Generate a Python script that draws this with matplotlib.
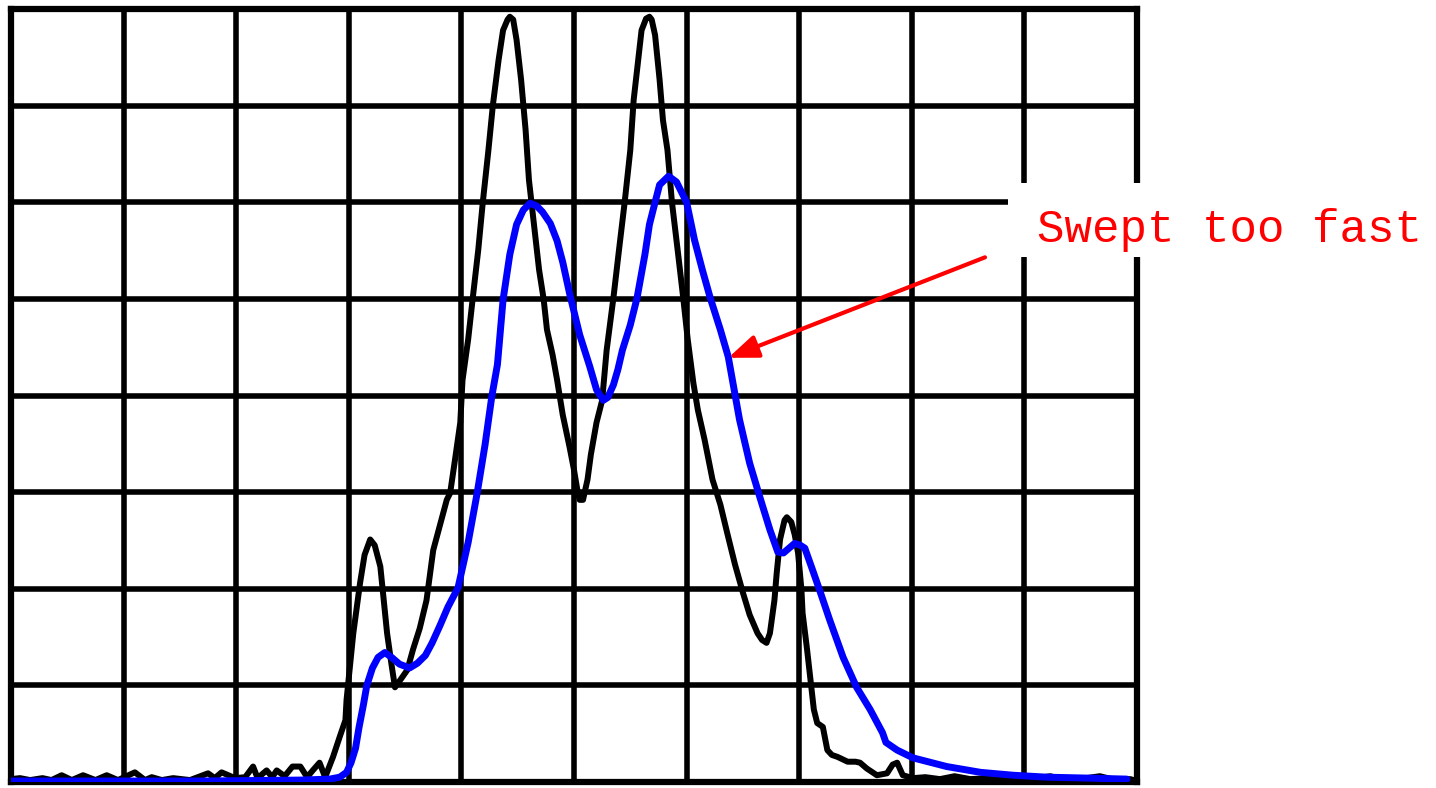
import matplotlib
matplotlib.use('Agg')
import matplotlib.pyplot as plt
from matplotlib.patches import Rectangle

# Trace mesurée (noir) : x en divisions horizontales, y en divisions verticales
black_x = [0.00, 0.08, 0.17, 0.28, 0.36, 0.45, 0.54, 0.64, 0.75, 0.85, 0.95,
           1.10, 1.19, 1.25, 1.34, 1.44, 1.59, 1.75, 1.81, 1.87, 1.99, 2.08,
           2.15, 2.19, 2.27, 2.32, 2.36, 2.43, 2.50, 2.57, 2.63, 2.68, 2.74,
           2.79, 2.86, 2.92, 2.97, 2.98, 3.04, 3.10, 3.14, 3.19, 3.23, 3.28,
           3.34, 3.38, 3.41, 3.46, 3.52, 3.57, 3.63, 3.69, 3.75, 3.81, 3.87,
           3.90, 3.94, 3.99, 4.01, 4.06, 4.10, 4.15, 4.19, 4.24, 4.28, 4.33,
           4.37, 4.41, 4.43, 4.46, 4.49, 4.53, 4.57, 4.60, 4.65, 4.69, 4.73,
           4.76, 4.81, 4.85, 4.90, 4.96, 5.00, 5.03, 5.05, 5.08, 5.12, 5.15,
           5.20, 5.25, 5.29, 5.35, 5.40, 5.45, 5.50, 5.53, 5.57, 5.60, 5.64,
           5.67, 5.69, 5.72, 5.76, 5.79, 5.83, 5.87, 5.92, 5.97, 6.01, 6.06,
           6.10, 6.16, 6.23, 6.30, 6.36, 6.43, 6.50, 6.56, 6.63, 6.67, 6.71,
           6.74, 6.78, 6.80, 6.83, 6.87, 6.89, 6.93, 6.96, 6.99, 7.02, 7.03,
           7.07, 7.10, 7.13, 7.16, 7.21, 7.25, 7.29, 7.34, 7.43, 7.50, 7.54,
           7.60, 7.69, 7.78, 7.83, 7.87, 7.92, 8.01, 8.12, 8.25, 8.38, 8.52,
           8.69, 8.87, 9.05, 9.23, 9.36, 9.49, 9.67, 9.81, 9.94, 10.00]
black_y = [0.03, 0.04, 0.02, 0.04, 0.02, 0.07, 0.02, 0.07, 0.02, 0.07, 0.02,
           0.10, 0.02, 0.05, 0.02, 0.04, 0.02, 0.09, 0.04, 0.10, 0.04, 0.05,
           0.16, 0.04, 0.12, 0.05, 0.12, 0.06, 0.16, 0.16, 0.05, 0.12, 0.20,
           0.05, 0.26, 0.47, 0.64, 0.85, 1.54, 2.06, 2.35, 2.51, 2.45, 2.23,
           1.54, 1.21, 0.98, 1.06, 1.16, 1.37, 1.59, 1.88, 2.40, 2.66, 2.92,
           2.99, 3.31, 3.72, 4.16, 4.58, 5.00, 5.51, 6.00, 6.54, 7.01, 7.47,
           7.78, 7.89, 7.92, 7.89, 7.68, 7.27, 6.75, 6.23, 5.71, 5.30, 5.00,
           4.68, 4.42, 4.16, 3.80, 3.47, 3.23, 3.02, 2.92, 2.92, 3.13, 3.39,
           3.72, 3.95, 4.47, 5.01, 5.51, 6.00, 6.54, 7.06, 7.47, 7.78, 7.90,
           7.92, 7.89, 7.73, 7.27, 6.85, 6.54, 6.00, 5.51, 5.01, 4.58, 4.13,
           3.85, 3.54, 3.13, 2.87, 2.58, 2.25, 1.96, 1.73, 1.54, 1.47, 1.44,
           1.54, 1.88, 2.16, 2.51, 2.71, 2.74, 2.69, 2.56, 2.37, 1.99, 1.75,
           1.37, 1.06, 0.75, 0.61, 0.57, 0.33, 0.28, 0.26, 0.21, 0.21, 0.20,
           0.14, 0.07, 0.09, 0.18, 0.20, 0.07, 0.04, 0.05, 0.03, 0.06, 0.03,
           0.04, 0.02, 0.03, 0.06, 0.02, 0.03, 0.06, 0.02, 0.03, 0.01]

# Trace balayée trop vite (bleu)
blue_x = [0.00, 0.79, 1.68, 2.57, 2.83, 2.92, 2.98, 3.02, 3.06, 3.09, 3.13,
          3.16, 3.21, 3.26, 3.32, 3.38, 3.45, 3.54, 3.61, 3.68, 3.74, 3.81,
          3.88, 3.97, 4.06, 4.14, 4.21, 4.27, 4.32, 4.37, 4.43, 4.49, 4.55,
          4.61, 4.67, 4.72, 4.79, 4.85, 4.90, 4.96, 5.05, 5.14, 5.20, 5.26,
          5.30, 5.35, 5.39, 5.43, 5.50, 5.56, 5.63, 5.67, 5.72, 5.76, 5.84,
          5.91, 6.00, 6.07, 6.14, 6.21, 6.30, 6.37, 6.43, 6.47, 6.56, 6.65,
          6.74, 6.81, 6.86, 6.91, 6.96, 7.01, 7.05, 7.12, 7.18, 7.27, 7.39,
          7.51, 7.63, 7.74, 7.77, 7.87, 8.01, 8.31, 8.61, 8.90, 9.20, 9.58,
          9.91]
blue_y = [0.01, 0.01, 0.01, 0.02, 0.03, 0.05, 0.10, 0.20, 0.35, 0.56, 0.80,
          1.00, 1.18, 1.29, 1.34, 1.29, 1.22, 1.18, 1.23, 1.31, 1.44, 1.62,
          1.81, 2.01, 2.48, 2.99, 3.49, 3.99, 4.32, 4.99, 5.46, 5.77, 5.92,
          5.99, 5.96, 5.90, 5.78, 5.60, 5.38, 5.06, 4.63, 4.30, 4.06, 3.95,
          3.98, 4.11, 4.27, 4.47, 4.73, 5.01, 5.46, 5.77, 6.00, 6.18, 6.27,
          6.21, 6.00, 5.61, 5.30, 5.01, 4.68, 4.40, 4.01, 3.75, 3.30, 2.95,
          2.61, 2.38, 2.37, 2.42, 2.47, 2.45, 2.42, 2.19, 1.99, 1.68, 1.29,
          0.98, 0.75, 0.51, 0.41, 0.33, 0.25, 0.16, 0.10, 0.07, 0.05, 0.04,
          0.03]

# Annotation
label = 'Swept too fast'
arrow_tip = (6.37, 4.39)
arrow_tail = (8.65, 5.43)

fig = plt.figure(figsize=(14.36, 7.88), dpi=100)
ax = fig.add_axes([11/1436, 6/788, 1126/1436, 773/788])

ax.set_xlim(0, 10)
ax.set_ylim(0, 8)
ax.set_xticks(range(11))
ax.set_yticks(range(9))
ax.tick_params(length=0, labelbottom=False, labelleft=False)
ax.grid(True, color='black', linewidth=4)
for s in ax.spines.values():
    s.set_linewidth(4.5)
    s.set_color('black')

ax.plot(black_x, black_y, color='black', linewidth=4.3, zorder=4,
        solid_joinstyle='round', solid_capstyle='round')
ax.plot(blue_x, blue_y, color='blue', linewidth=5, zorder=5,
        solid_joinstyle='round', solid_capstyle='round')

# cadre blanc derrière le texte
ax.add_patch(Rectangle((8.85, 5.43), 3.8, 0.77, facecolor='white',
                       edgecolor='none', zorder=6, clip_on=False))
ax.text(9.11, 5.59, label, color='red', fontsize=33, family='Liberation Mono',
        ha='left', va='baseline', zorder=7, clip_on=False)

ax.annotate('', xy=arrow_tip, xytext=arrow_tail,
            arrowprops=dict(arrowstyle='-|>,head_length=0.9,head_width=0.35',
                            color='red', lw=3, mutation_scale=20,
                            shrinkA=0, shrinkB=0),
            zorder=7)

fig.savefig('out.png', dpi=100)
